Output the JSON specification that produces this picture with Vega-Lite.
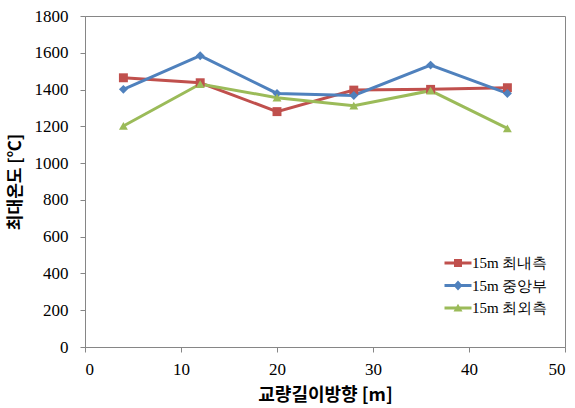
{
  "$schema": "https://vega.github.io/schema/vega-lite/v6.json",
  "autosize": "none",
  "width": 480,
  "height": 331,
  "padding": {"left": 85, "right": 10, "top": 16, "bottom": 61},
  "background": "white",
  "config": {
    "view": {"stroke": "#868686", "strokeWidth": 1},
    "axis": {"grid": false, "domainColor": "#868686", "tickColor": "#868686", "labelOverlap": false, "labelFont": "Liberation Serif", "labelFontSize": 17, "labelColor": "#000000", "titleColor": "#000000", "titleFont": "Noto Sans CJK KR", "titleFontWeight": "bold"}
  },
  "data": {"values": [
    {"x": 4, "y": 1464, "s": "15m 최내측"},
    {"x": 12, "y": 1437, "s": "15m 최내측"},
    {"x": 20, "y": 1280, "s": "15m 최내측"},
    {"x": 28, "y": 1397, "s": "15m 최내측"},
    {"x": 36, "y": 1401, "s": "15m 최내측"},
    {"x": 44, "y": 1410, "s": "15m 최내측"},
    {"x": 4, "y": 1401, "s": "15m 중앙부"},
    {"x": 12, "y": 1584, "s": "15m 중앙부"},
    {"x": 20, "y": 1379, "s": "15m 중앙부"},
    {"x": 28, "y": 1368, "s": "15m 중앙부"},
    {"x": 36, "y": 1533, "s": "15m 중앙부"},
    {"x": 44, "y": 1379, "s": "15m 중앙부"},
    {"x": 4, "y": 1202, "s": "15m 최외측"},
    {"x": 12, "y": 1430, "s": "15m 최외측"},
    {"x": 20, "y": 1356, "s": "15m 최외측"},
    {"x": 28, "y": 1312, "s": "15m 최외측"},
    {"x": 36, "y": 1394, "s": "15m 최외측"},
    {"x": 44, "y": 1189, "s": "15m 최외측"}
  ]},
  "encoding": {
    "x": {"field": "x", "type": "quantitative", "scale": {"domain": [0, 50], "nice": false},
      "axis": {"values": [0, 10, 20, 30, 40, 50], "format": "d", "tickSize": 5, "labelPadding": 9, "title": "교량길이방향 [m]", "titleFontSize": 18, "titleBaseline": "middle", "titleY": 48,
        "encode": {"labels": {"update": {"font": {"value": "Liberation Serif"}}}}}},
    "y": {"field": "y", "type": "quantitative", "scale": {"domain": [0, 1800], "nice": false},
      "axis": {"values": [0, 200, 400, 600, 800, 1000, 1200, 1400, 1600, 1800], "format": "d", "tickSize": 5, "labelPadding": 12, "title": "최대온도 [℃]", "titleFontSize": 17, "titleBaseline": "middle", "titleX": -70,
        "encode": {"labels": {"update": {"font": {"value": "Liberation Serif"}}}}}}
  },
  "layer": [
    {
      "mark": {"type": "line", "strokeWidth": 3},
      "encoding": {
        "color": {"field": "s", "type": "nominal",
          "scale": {"domain": ["15m 최내측", "15m 중앙부", "15m 최외측"], "range": ["#C0504D", "#4F81BD", "#9BBB59"]},
          "legend": null}
      }
    },
    {
      "mark": {"type": "point", "filled": true, "opacity": 1, "size": 80},
      "encoding": {
        "color": {"field": "s", "type": "nominal",
          "scale": {"domain": ["15m 최내측", "15m 중앙부", "15m 최외측"], "range": ["#C0504D", "#4F81BD", "#9BBB59"]},
          "legend": null},
        "shape": {"field": "s", "type": "nominal",
          "scale": {"domain": ["15m 최내측", "15m 중앙부", "15m 최외측"], "range": ["square", "diamond", "triangle-up"]},
          "legend": null}
      }
    },
    {
      "transform": [{"filter": "false"}],
      "mark": {"type": "point", "filled": true, "opacity": 1},
      "encoding": {
        "color": {"field": "s", "type": "nominal",
          "scale": {"domain": ["15m 최내측", "15m 중앙부", "15m 최외측"], "range": ["#C0504D", "#4F81BD", "#9BBB59"]},
          "legend": {"orient": "none", "legendX": 363, "legendY": 237, "title": null, "padding": 0,
            "labelFont": "Liberation Serif", "labelFontSize": 15, "labelColor": "#000000", "labelOffset": 4,
            "rowPadding": 4.5, "symbolSize": 400, "symbolStrokeWidth": 0}},
        "shape": {"field": "s", "type": "nominal",
          "scale": {"domain": ["15m 최내측", "15m 중앙부", "15m 최외측"],
            "range": [
              "M-1.35,-0.15H1.35V0.15H-1.35Z M-0.4,-0.4H0.4V0.4H-0.4Z",
              "M-1.35,-0.15H1.35V0.15H-1.35Z M0,-0.5L0.45,0L0,0.5L-0.45,0Z",
              "M-1.35,-0.15H1.35V0.15H-1.35Z M0,-0.42L0.45,0.35L-0.45,0.35Z"
            ]},
          "legend": {"orient": "none", "legendX": 363, "legendY": 237, "title": null, "padding": 0,
            "labelFont": "Liberation Serif", "labelFontSize": 15, "labelColor": "#000000", "labelOffset": 4,
            "rowPadding": 4.5, "symbolSize": 400, "symbolStrokeWidth": 0}
        }
      }
    }
  ],
  "resolve": {"scale": {"shape": "independent", "color": "independent"}}
}
